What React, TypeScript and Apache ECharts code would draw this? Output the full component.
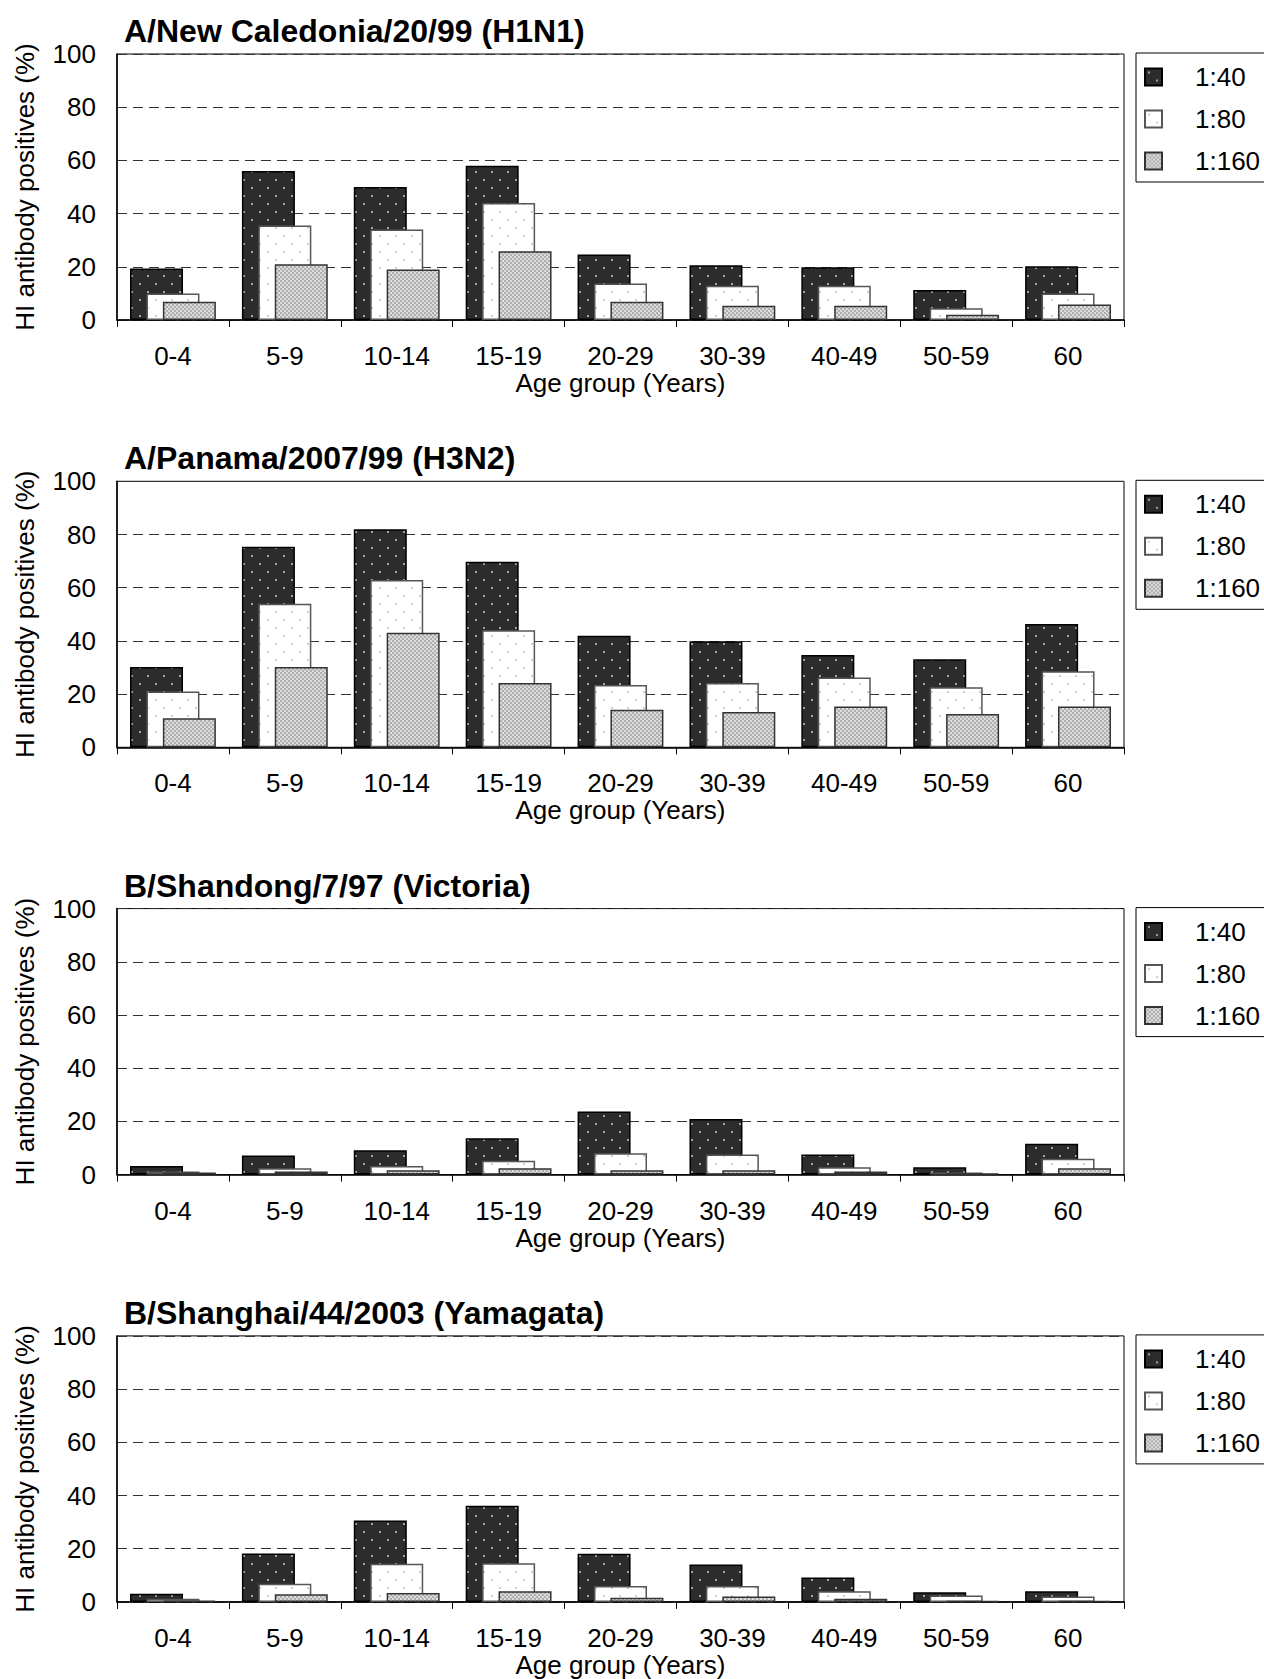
import React, { useEffect, useRef } from "react";
import * as echarts from "echarts";

const categories = ["0-4", "5-9", "10-14", "15-19", "20-29", "30-39", "40-49", "50-59", "60"];
const seriesNames = ["1:40", "1:80", "1:160"];
const yTicks = [0, 20, 40, 60, 80, 100];

const panelTitles = [
  "A/New Caledonia/20/99 (H1N1)",
  "A/Panama/2007/99 (H3N2)",
  "B/Shandong/7/97 (Victoria)",
  "B/Shanghai/44/2003 (Yamagata)",
];

// Panel 1: A/New Caledonia/20/99 (H1N1)
const h1n1_40 = [19.4, 56, 50, 58, 24.6, 20.6, 19.8, 11.3, 20.2];
const h1n1_80 = [10, 35.5, 34, 44, 13.7, 12.9, 12.9, 4.4, 10];
const h1n1_160 = [6.9, 21, 19, 25.8, 6.9, 5.4, 5.4, 2, 5.8];

// Panel 2: A/Panama/2007/99 (H3N2)
const h3n2_40 = [30.2, 75.4, 82, 69.8, 41.9, 39.9, 34.7, 33.1, 46.4];
const h3n2_80 = [21, 54, 62.9, 44, 23.4, 24.2, 26.2, 22.6, 28.6];
const h3n2_160 = [10.9, 30.2, 43.1, 24.2, 14.1, 13.3, 15.3, 12.5, 15.3];

// Panel 3: B/Shandong/7/97 (Victoria)
const vic_40 = [3.2, 7.2, 9.2, 13.7, 23.7, 20.9, 7.6, 2.8, 11.6];
const vic_80 = [1.2, 2.4, 3.2, 5.2, 8, 7.6, 2.8, 0.8, 6];
const vic_160 = [0.8, 1.2, 1.6, 2.4, 1.6, 1.6, 1.2, 0.4, 2.4];

// Panel 4: B/Shanghai/44/2003 (Yamagata)
const yam_40 = [3.1, 18.2, 30.6, 36.1, 18.1, 14.1, 9.2, 3.6, 4];
const yam_80 = [1.2, 6.8, 14.3, 14.5, 6, 6, 4, 2.4, 2];
const yam_160 = [0.5, 2.9, 3.3, 4, 1.6, 2, 1.2, 0.3, 0.3];

const panelData = [
  [h1n1_40, h1n1_80, h1n1_160],
  [h3n2_40, h3n2_80, h3n2_160],
  [vic_40, vic_80, vic_160],
  [yam_40, yam_80, yam_160],
];

const FONT = "'Liberation Sans', Arial, Helvetica, sans-serif";

function makeCanvas(size: number, draw: (ctx: CanvasRenderingContext2D) => void) {
  const c = document.createElement("canvas");
  c.width = size;
  c.height = size;
  const ctx = c.getContext("2d")!;
  draw(ctx);
  return c;
}

function makePatterns() {
  const dark = makeCanvas(16, (ctx) => {
    ctx.fillStyle = "#2c2c2c";
    ctx.fillRect(0, 0, 16, 16);
    ctx.fillStyle = "#a0a0a0";
    ctx.fillRect(3, 3, 2, 2);
    ctx.fillRect(11, 11, 2, 2);
  });
  const white = makeCanvas(16, (ctx) => {
    ctx.fillStyle = "#ffffff";
    ctx.fillRect(0, 0, 16, 16);
    ctx.fillStyle = "#cfcfcf";
    ctx.fillRect(3, 3, 2, 2);
    ctx.fillRect(11, 11, 2, 2);
  });
  const gray = makeCanvas(4, (ctx) => {
    ctx.fillStyle = "#dcdcdc";
    ctx.fillRect(0, 0, 4, 4);
    ctx.fillStyle = "#aeaeae";
    ctx.fillRect(0, 0, 2, 2);
    ctx.fillRect(2, 2, 2, 2);
  });
  return [
    { image: dark, repeat: "repeat", imageWidth: 16, imageHeight: 16 },
    { image: white, repeat: "repeat", imageWidth: 16, imageHeight: 16 },
    { image: gray, repeat: "repeat", imageWidth: 4, imageHeight: 4 },
  ];
}

export default function App() {
  const ref = useRef<HTMLDivElement>(null);

  useEffect(() => {
    if (!ref.current) return;
    const chart = echarts.init(ref.current, null, { renderer: "svg" });
    const patterns = makePatterns();
    const borderColors = ["#000000", "#555555", "#333333"];

    const plotLeft = 117;
    const plotRight = 1264 - 1124;
    const plotHeight = 266;
    const firstTop = 54;
    const step = 427.3;

    const grids: any[] = [];
    const xAxes: any[] = [];
    const yAxes: any[] = [];
    const series: any[] = [];
    const titles: any[] = [];
    const legends: any[] = [];

    panelTitles.forEach((t, i) => {
      const top = firstTop + step * i;
      grids.push({
        left: plotLeft,
        right: plotRight,
        top,
        height: plotHeight,
        show: true,
        borderColor: "#000",
        borderWidth: 1,
        backgroundColor: "transparent",
      });
      titles.push({
        text: t,
        left: 124,
        top: top - 39,
        padding: 0,
        textStyle: { fontFamily: FONT, fontSize: 32, fontWeight: "bold", color: "#000" },
      });
      xAxes.push({
        type: "category",
        gridIndex: i,
        data: categories,
        boundaryGap: true,
        name: "Age group (Years)",
        nameLocation: "middle",
        nameGap: 47,
        nameTextStyle: { fontFamily: FONT, fontSize: 26, color: "#000" },
        axisLine: { show: true, lineStyle: { color: "#000", width: 1.5 } },
        axisTick: { show: true, length: 7, alignWithLabel: false, lineStyle: { color: "#000", width: 1 } },
        axisLabel: { fontFamily: FONT, fontSize: 26, color: "#000", margin: 23, interval: 0 },
        splitLine: { show: false },
      });
      yAxes.push({
        type: "value",
        gridIndex: i,
        min: yTicks[0],
        max: yTicks[yTicks.length - 1],
        interval: 20,
        name: "HI antibody positives (%)",
        nameLocation: "middle",
        nameGap: 79,
        nameTextStyle: { fontFamily: FONT, fontSize: 26, color: "#000" },
        axisLine: { show: true, lineStyle: { color: "#000", width: 1.5 } },
        axisTick: { show: false },
        axisLabel: { fontFamily: FONT, fontSize: 26, color: "#000", margin: 21 },
        splitLine: { show: true, lineStyle: { color: "#333", width: 1, type: [10, 6] } },
      });
      legends.push({
        orient: "vertical",
        left: 1136,
        top: top - 1,
        itemWidth: 17,
        itemHeight: 17,
        itemGap: 16,
        padding: [11, 20, 8, 8],
        borderColor: "#000",
        borderWidth: 1,
        icon: "rect",
        data: seriesNames,
        textStyle: { fontFamily: FONT, fontSize: 26, color: "#000", lineHeight: 26, padding: [0, 0, 0, 28] },
        selectedMode: false,
      });
      panelData[i].forEach((vals, s) => {
        series.push({
          type: "bar",
          name: seriesNames[s],
          xAxisIndex: i,
          yAxisIndex: i,
          data: vals,
          barWidth: 53,
          barGap: "-69%",
          itemStyle: {
            color: patterns[s],
            borderColor: borderColors[s],
            borderWidth: 1.5,
          },
          emphasis: { disabled: true },
        });
      });
    });

    chart.setOption({
      animation: false,
      backgroundColor: "#ffffff",
      textStyle: { fontFamily: FONT },
      title: titles,
      legend: legends,
      grid: grids,
      xAxis: xAxes,
      yAxis: yAxes,
      series,
    });

    return () => chart.dispose();
  }, []);

  return (
    <div
      ref={ref}
      style={{ position: "absolute", left: 0, top: 0, width: 1264, height: 1679, background: "#fff" }}
    />
  );
}
